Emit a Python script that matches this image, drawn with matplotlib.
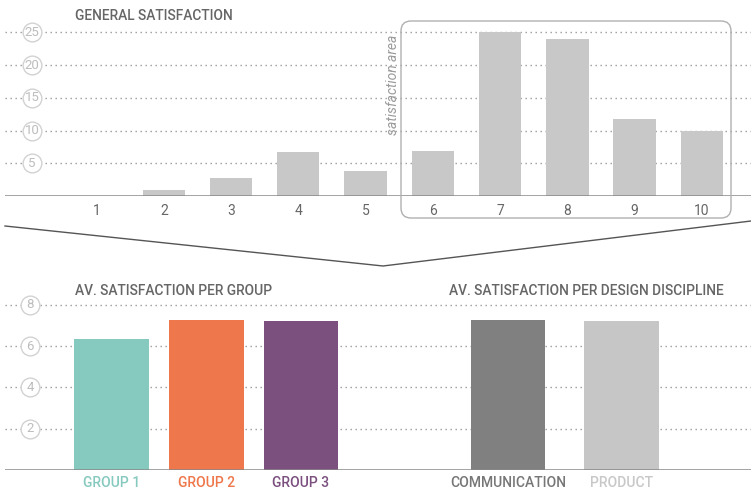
import matplotlib.pyplot as plt
from matplotlib.patches import FancyBboxPatch
from matplotlib.lines import Line2D
from matplotlib.transforms import IdentityTransform, blended_transform_factory

plt.rcParams['font.family'] = ['Roboto', 'DejaVu Sans']

# data
ratings = [1, 2, 3, 4, 5, 6, 7, 8, 9, 10]
rating_counts = [0, 0.9, 2.7, 6.7, 3.8, 6.9, 25, 24, 11.7, 9.9]
rating_ticks = [5, 10, 15, 20, 25]

groups = ['GROUP 1', 'GROUP 2', 'GROUP 3']
group_scores = [6.35, 7.25, 7.2]
group_colors = ['#86c9bf', '#ee774b', '#7b4f7e']

disciplines = ['COMMUNICATION', 'PRODUCT']
discipline_scores = [7.25, 7.23]
discipline_colors = ['#808080', '#c6c6c6']
discipline_label_colors = ['#777777', '#c8c8c8']

avg_ticks = [2, 4, 6, 8]

W, H = 751, 490
fig = plt.figure(figsize=(W / 100, H / 100), dpi=100)
px = IdentityTransform()


def px_axes(x0, y_top, x1, y_bottom):
    return fig.add_axes([x0 / W, 1 - y_bottom / H, (x1 - x0) / W, (y_bottom - y_top) / H])


def style_axes(ax, ticks, circles_x=None):
    for s in ax.spines.values():
        s.set_visible(False)
    ax.set_yticks([])
    ax.tick_params(axis='x', length=0)
    for t in ticks:
        ax.axhline(t, color='#9a9a9a', lw=1, ls=(0, (1, 2.6)), zorder=0)
    ax.axhline(0, color='#888888', lw=1.8, zorder=4)
    if circles_x is not None:
        trans = blended_transform_factory(ax.transAxes, ax.transData)
        ax.plot([circles_x] * len(ticks), ticks, 'o', ms=13.5, mfc='white', mec='#d2d2d2',
                mew=1, transform=trans, clip_on=False, zorder=3)
        for t in ticks:
            ax.text(circles_x, t, str(t), transform=trans, ha='center', va='center',
                    fontsize=9.5, color='#bdbdbd', zorder=5)


# top chart: general satisfaction
ax = px_axes(5, 20, 751, 196)
ax.bar(ratings, rating_counts, width=0.63, color='#c8c8c8', zorder=2)
ax.set_xlim(-0.361, 10.731)
ax.set_ylim(0, 26.91)
ax.set_xticks(ratings)
ax.set_xticklabels([str(r) for r in ratings], fontsize=10, color='#666666')
ax.tick_params(axis='x', pad=6)
style_axes(ax, rating_ticks, circles_x=27 / 746)

# bottom left: per group
ax2 = px_axes(5, 300, 380, 470)
ax2.bar(range(len(groups)), group_scores, width=0.79, color=group_colors, zorder=2)
ax2.set_xlim(-1.124, 2.834)
ax2.set_ylim(0, 8.23)
ax2.set_xticks(range(len(groups)))
ax2.set_xticklabels(groups, fontsize=10, weight='medium')
for lbl, c in zip(ax2.get_xticklabels(), group_colors):
    lbl.set_color(c)
ax2.tick_params(axis='x', pad=4)
style_axes(ax2, avg_ticks, circles_x=25 / 375)

# bottom right: per discipline
ax3 = px_axes(380, 300, 751, 470)
ax3.bar(range(len(disciplines)), discipline_scores, width=0.657, color=discipline_colors, zorder=2)
ax3.set_xlim(-1.128, 2.144)
ax3.set_ylim(0, 8.23)
ax3.set_xticks(range(len(disciplines)))
ax3.set_xticklabels(disciplines, fontsize=10, weight='medium')
for lbl, c in zip(ax3.get_xticklabels(), discipline_label_colors):
    lbl.set_color(c)
ax3.tick_params(axis='x', pad=4)
style_axes(ax3, avg_ticks)

# satisfaction area box
box = FancyBboxPatch((401, H - 218), 330, 197, boxstyle='round,pad=0,rounding_size=10',
                     transform=px, fill=False, ec='#b0b0b0', lw=1)
fig.add_artist(box)
fig.text(393, H - 85, 'satisfaction area', transform=px, rotation=90, style='italic',
         color='#9a9a9a', fontsize=10, ha='center', va='center')

# funnel line
fig.add_artist(Line2D([5, 383, 751], [H - 226, H - 266, H - 221], transform=px,
                      color='#555555', lw=1))

# titles
title_kw = dict(transform=px, va='center', ha='left', fontsize=9.9, color='#666666', weight='medium')
fig.text(75, H - 16, 'GENERAL SATISFACTION', **title_kw)
fig.text(75, H - 291, 'AV. SATISFACTION PER GROUP', **title_kw)
fig.text(449, H - 291, 'AV. SATISFACTION PER DESIGN DISCIPLINE', **title_kw)

fig.savefig('out.png', dpi=100)
